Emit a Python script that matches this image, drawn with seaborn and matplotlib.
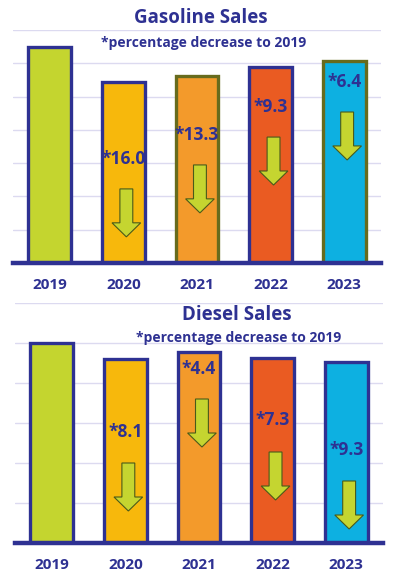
import matplotlib
matplotlib.use("Agg")
import matplotlib.pyplot as plt
import seaborn as sns
import pandas as pd

# ---- data ----
years = ["2019", "2020", "2021", "2022", "2023"]
gasoline_index = [100, 84.0, 86.7, 90.7, 93.6]
gasoline_decrease = [None, "16.0", "13.3", "9.3", "6.4"]
diesel_index = [100, 91.9, 95.6, 92.7, 90.7]
diesel_decrease = [None, "8.1", "4.4", "7.3", "9.3"]

# ---- layout (annotation positions, data units) ----
gas_label_y = [None, 48.1, 59.3, 72.2, 83.8]
gas_arrow_top = [None, 34.3, 45.4, 58.3, 69.9]
dsl_label_y = [None, 55.5, 87.0, 61.5, 46.5]
dsl_arrow_top = [None, 40.0, 72.0, 45.5, 31.0]

# ---- style ----
NAVY = "#2e3192"
OLIVE = "#676b1d"
GRID = "#dcdaf0"
fills = ["#c4d52f", "#f7b80c", "#f39a2b", "#ea5b22", "#0db0e1"]
gas_edges = [NAVY, NAVY, OLIVE, NAVY, OLIVE]
dsl_edges = [NAVY] * 5
ARROW_FILL = "#c5d530"
ARROW_EDGE = "#4a5a1a"

sns.set_style("white")
plt.rcParams["font.family"] = ["Open Sans", "DejaVu Sans"]

fig = plt.figure(figsize=(3.97, 5.84), dpi=100)


def panel(rect, values, edges, ymax, step, labels, label_y, arrow_top,
          arrow_len, head_len):
    ax = fig.add_axes(rect)
    df = pd.DataFrame({"year": years, "value": values})
    sns.barplot(data=df, x="year", y="value", hue="year", palette=fills,
                saturation=1, width=0.58, legend=False, ax=ax,
                linewidth=2.4, zorder=3)
    for p, ec in zip(ax.patches, edges):
        p.set_edgecolor(ec)
        p.set_linewidth(2.4)
    ax.set_xlim(-0.5, 4.5)
    ax.set_ylim(0, ymax)
    ticks = [step * i for i in range(1, 8) if step * i <= ymax + 0.01]
    ax.set_yticks(ticks)
    ax.yaxis.grid(True, color=GRID, linewidth=1.0, zorder=0)
    ax.set_axisbelow(True)
    ax.set_yticklabels([])
    ax.tick_params(axis="y", length=0)
    ax.tick_params(axis="x", length=0, pad=11, labelsize=11, labelcolor=NAVY)
    for t in ax.get_xticklabels():
        t.set_fontweight("bold")
    ax.set_xlabel("")
    ax.set_ylabel("")
    for s in ["top", "left", "right"]:
        ax.spines[s].set_visible(False)
    ax.spines["bottom"].set_color(NAVY)
    ax.spines["bottom"].set_linewidth(3.2)
    ax.spines["bottom"].set_zorder(5)
    for i, (lab, ly, at) in enumerate(zip(labels, label_y, arrow_top)):
        if lab is None:
            continue
        ax.text(i, ly, "*" + lab, ha="center", va="center", fontsize=12.5,
                fontweight="bold", color=NAVY, zorder=6)
        ax.arrow(i + 0.04, at, 0, -arrow_len, width=0.175, head_width=0.39,
                 head_length=head_len, length_includes_head=True,
                 facecolor=ARROW_FILL, edgecolor=ARROW_EDGE, linewidth=0.8,
                 zorder=6)
    return ax


# top panel: 233 px tall, 2.16 px per unit
top_ymax = 233 / 2.16
panel([13 / 397, (584 - 263) / 584, 368 / 397, 233 / 584],
      gasoline_index, gas_edges, top_ymax, top_ymax / 7,
      gasoline_decrease, gas_label_y, gas_arrow_top, 22.2, 6.5)

# bottom panel: 240 px tall, 2 px per unit
panel([15 / 397, (584 - 543) / 584, 368 / 397, 240 / 584],
      diesel_index, dsl_edges, 120, 20,
      diesel_decrease, dsl_label_y, dsl_arrow_top, 24, 7)

fig.text(201 / 397, 1 - 18 / 584, "Gasoline Sales", ha="center", va="center",
         fontsize=13.5, fontweight="bold", color=NAVY)
fig.text(204 / 397, 1 - 43 / 584, "*percentage decrease to 2019", ha="center",
         va="center", fontsize=10, fontweight="bold", color=NAVY)
fig.text(237 / 397, 1 - 315 / 584, "Diesel Sales", ha="center", va="center",
         fontsize=13.5, fontweight="bold", color=NAVY)
fig.text(239 / 397, 1 - 338 / 584, "*percentage decrease to 2019", ha="center",
         va="center", fontsize=10, fontweight="bold", color=NAVY)

fig.savefig("out.png", dpi=100)
